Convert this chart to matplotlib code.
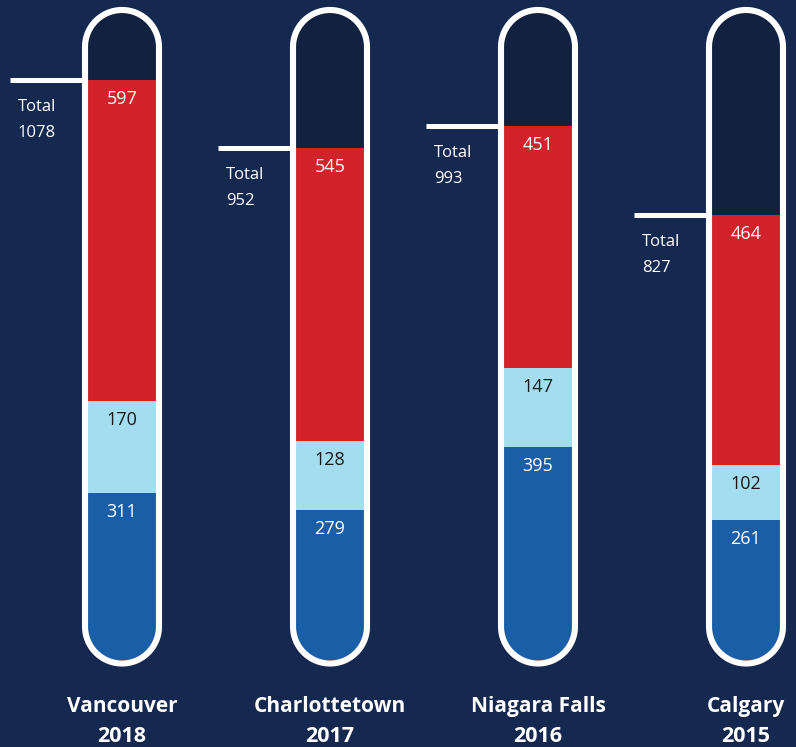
import matplotlib.pyplot as plt
from matplotlib.patches import Polygon
import numpy as np

cities = ["Vancouver", "Charlottetown", "Niagara Falls", "Calgary"]
years = ["2018", "2017", "2016", "2015"]
blue_vals = [311, 279, 395, 261]
light_vals = [170, 128, 147, 102]
red_vals = [597, 545, 451, 464]
totals = [1078, 952, 993, 827]

bg = "#15284f"
navy = "#11213f"
red = "#d2232a"
light = "#a4dcf0"
blue = "#1b5ea8"

# pixel scale helpers (figure is 796x747 px)
W, H = 796, 747
xpx = 208.0      # px per category
ypx = 0.538      # px per unit
x0px = 122.0     # px of first tube centre
y0px = 660.0     # px of value 0 (from top)

def dx(p):
    return p / xpx

def dy(p):
    return p / ypx

def tube_points(xc, ybot, ytop, rpx):
    # capsule outline: semicircle top and bottom, radius rpx pixels
    t = np.linspace(0, np.pi, 60)
    top_y = ytop - dy(rpx)
    bot_y = ybot + dy(rpx)
    top = np.column_stack([xc + dx(rpx) * np.cos(t), top_y + dy(rpx) * np.sin(t)])
    bot = np.column_stack([xc - dx(rpx) * np.cos(t), bot_y - dy(rpx) * np.sin(t)])
    return np.vstack([top, bot])

fig = plt.figure(figsize=(W / 100, H / 100), dpi=100)
fig.patch.set_facecolor(bg)
ax = fig.add_axes([0, 0, 1, 1])
ax.set_facecolor(bg)
ax.set_xlim(-x0px / xpx, (W - x0px) / xpx)
ax.set_ylim((y0px - H) / ypx, y0px / ypx)
ax.axis("off")

font = ["Open Sans", "DejaVu Sans"]
x = np.arange(len(cities))
cap = dy(660 - 10)   # top of tube (outline centre)
tw = dx(74)

for i in range(len(cities)):
    pts = tube_points(x[i], -dy(3.5), cap, 37)
    tube = Polygon(pts, closed=True, facecolor=navy, edgecolor="none", zorder=1)
    ax.add_patch(tube)
    outline = Polygon(pts, closed=True, facecolor="none", edgecolor="white",
                      linewidth=4.4, zorder=5)
    ax.add_patch(outline)

    b1 = ax.bar(x[i], blue_vals[i], width=tw, color=blue, zorder=2)
    b2 = ax.bar(x[i], light_vals[i], bottom=blue_vals[i], width=tw,
                color=light, zorder=2)
    b3 = ax.bar(x[i], red_vals[i], bottom=blue_vals[i] + light_vals[i],
                width=tw, color=red, zorder=2)
    for bc in (b1, b2, b3):
        for p in bc:
            p.set_clip_path(tube)

    # segment labels
    tops = [blue_vals[i], blue_vals[i] + light_vals[i], totals[i]]
    vals = [blue_vals[i], light_vals[i], red_vals[i]]
    cols = ["white", "#1a1a1a", "white"]
    for t, v, c in zip(tops, vals, cols):
        ax.text(x[i], t - dy(19), str(v), ha="center", va="center",
                color=c, fontsize=13, family=font, zorder=6)

    # total marker
    ax.plot([x[i] - dx(112), x[i] - dx(40)], [totals[i], totals[i]],
            color="white", lw=3.6, solid_capstyle="butt", zorder=4)
    ax.text(x[i] - dx(104), totals[i] - dy(27), "Total", ha="left",
            va="center", color="white", fontsize=12, family=font, zorder=6)
    ax.text(x[i] - dx(104), totals[i] - dy(53), str(totals[i]), ha="left",
            va="center", color="white", fontsize=12, family=font, zorder=6)

    # city / year
    ax.text(x[i], dy(y0px - 712), cities[i], ha="center", va="baseline",
            color="white", fontsize=15, fontweight="bold", family=font)
    ax.text(x[i], dy(y0px - 742), years[i], ha="center", va="baseline",
            color="white", fontsize=15.5, fontweight="bold", family=font)

fig.savefig("out.png", dpi=100, facecolor=bg)
